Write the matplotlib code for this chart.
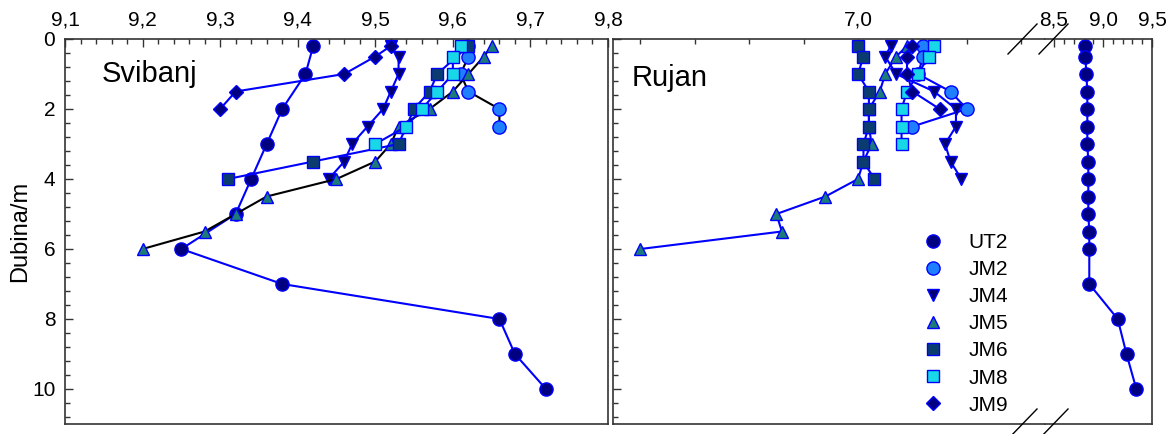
import matplotlib.pyplot as plt
from matplotlib.lines import Line2D
from matplotlib.ticker import MultipleLocator, FuncFormatter

plt.rcParams['font.family'] = ['Liberation Sans', 'DejaVu Sans']

stations = ['UT2', 'JM2', 'JM4', 'JM5', 'JM6', 'JM8', 'JM9']

# Svibanj: depth (m) and pH per station
may_ut2_z = [0.2, 1, 2, 3, 4, 5, 6, 7, 8, 9, 10]
may_ut2_ph = [9.42, 9.41, 9.38, 9.36, 9.34, 9.32, 9.25, 9.38, 9.66, 9.68, 9.72]
may_jm2_z = [0.2, 0.5, 1, 1.5, 2, 2.5]
may_jm2_ph = [9.62, 9.62, 9.61, 9.62, 9.66, 9.66]
may_jm4_z = [0.2, 0.5, 1, 1.5, 2, 2.5, 3, 3.5, 4]
may_jm4_ph = [9.52, 9.53, 9.53, 9.52, 9.51, 9.49, 9.47, 9.46, 9.44]
may_jm5_z = [0.2, 0.5, 1, 1.5, 2, 2.5, 3, 3.5, 4, 4.5, 5, 5.5, 6]
may_jm5_ph = [9.65, 9.64, 9.62, 9.60, 9.57, 9.53, 9.52, 9.50, 9.45, 9.36, 9.32, 9.28, 9.20]
may_jm6_z = [0.2, 1, 1.5, 2, 3, 3.5, 4]
may_jm6_ph = [9.62, 9.58, 9.57, 9.55, 9.53, 9.42, 9.31]
may_jm8_z = [0.2, 0.5, 1, 1.5, 2, 2.5, 3]
may_jm8_ph = [9.61, 9.60, 9.60, 9.58, 9.56, 9.54, 9.50]
may_jm9_z = [0.2, 0.5, 1, 1.5, 2]
may_jm9_ph = [9.52, 9.50, 9.46, 9.32, 9.30]

# Rujan: depth (m) and pH per station
sep_ut2_z = [0.2, 0.5, 1, 1.5, 2, 2.5, 3, 3.5, 4, 4.5, 5, 5.5, 6, 7, 8, 9, 10]
sep_ut2_ph = [8.82, 8.82, 8.83, 8.84, 8.84, 8.84, 8.84, 8.85, 8.85, 8.85, 8.85,
              8.86, 8.86, 8.86, 9.15, 9.24, 9.34]
sep_jm2_z = [0.2, 0.5, 1, 1.5, 2, 2.5]
sep_jm2_ph = [7.12, 7.12, 7.11, 7.17, 7.20, 7.10]
sep_jm4_z = [0.2, 0.5, 1, 1.5, 2, 2.5, 3, 3.5, 4]
sep_jm4_ph = [7.06, 7.05, 7.07, 7.14, 7.18, 7.18, 7.16, 7.17, 7.19]
sep_jm5_z = [0.2, 0.5, 1, 1.5, 2, 2.5, 3, 3.5, 4, 4.5, 5, 5.5, 6]
sep_jm5_ph = [7.09, 7.07, 7.05, 7.04, 7.02, 7.02, 7.025, 7.01, 7.00, 6.94, 6.85, 6.86, 6.60]
sep_jm6_z = [0.2, 0.5, 1, 1.5, 2, 2.5, 3, 3.5, 4]
sep_jm6_ph = [7.00, 7.01, 7.00, 7.02, 7.02, 7.02, 7.01, 7.01, 7.03]
sep_jm8_z = [0.2, 0.5, 1, 1.5, 2, 2.5, 3]
sep_jm8_ph = [7.14, 7.13, 7.11, 7.09, 7.08, 7.08, 7.08]
sep_jm9_z = [0.2, 0.5, 1, 1.5, 2]
sep_jm9_ph = [7.10, 7.09, 7.09, 7.10, 7.15]

may = {
    'UT2': (may_ut2_ph, may_ut2_z), 'JM2': (may_jm2_ph, may_jm2_z),
    'JM4': (may_jm4_ph, may_jm4_z), 'JM5': (may_jm5_ph, may_jm5_z),
    'JM6': (may_jm6_ph, may_jm6_z), 'JM8': (may_jm8_ph, may_jm8_z),
    'JM9': (may_jm9_ph, may_jm9_z),
}
sep = {
    'UT2': (sep_ut2_ph, sep_ut2_z), 'JM2': (sep_jm2_ph, sep_jm2_z),
    'JM4': (sep_jm4_ph, sep_jm4_z), 'JM5': (sep_jm5_ph, sep_jm5_z),
    'JM6': (sep_jm6_ph, sep_jm6_z), 'JM8': (sep_jm8_ph, sep_jm8_z),
    'JM9': (sep_jm9_ph, sep_jm9_z),
}

marker = {'UT2': 'o', 'JM2': 'o', 'JM4': 'v', 'JM5': '^', 'JM6': 's', 'JM8': 's', 'JM9': 'D'}
msize = {'UT2': 9.5, 'JM2': 9.5, 'JM4': 9, 'JM5': 9, 'JM6': 8, 'JM8': 8, 'JM9': 7.5}
fill = {'UT2': '#000080', 'JM2': '#1f7fff', 'JM4': '#000070', 'JM5': '#1c7a78',
        'JM6': '#0a3d6e', 'JM8': '#18d8e8', 'JM9': '#000080'}
may_line = {'UT2': '#0000ff', 'JM2': 'black', 'JM4': '#0000ff', 'JM5': 'black',
            'JM6': '#0000ff', 'JM8': '#0000ff', 'JM9': '#0000ff'}
edge = '#0000ff'
spine_col = '#333333'

W, H = 1169, 434
fig = plt.figure(figsize=(W / 100, H / 100), dpi=100)

def px(x0, x1):
    return [x0 / W, (H - 424) / H, (x1 - x0) / W, 385 / H]

ax1 = fig.add_axes(px(65, 608))
ax2 = fig.add_axes(px(613, 1045))
ax3 = fig.add_axes(px(1045, 1152))

comma = FuncFormatter(lambda v, p: f'{v:.1f}'.replace('.', ','))

for ax in (ax1, ax2, ax3):
    ax.set_ylim(11, 0)
    ax.xaxis.tick_top()
    ax.tick_params(which='both', direction='in', top=True, bottom=False,
                   right=False, labelsize=15, pad=7, color=spine_col)
    ax.tick_params(which='major', length=6, width=1)
    ax.tick_params(which='minor', length=3.5, width=1)
    ax.yaxis.set_major_locator(MultipleLocator(2))
    ax.yaxis.set_minor_locator(MultipleLocator(0.4))
    ax.xaxis.set_major_formatter(comma)
    for s in ax.spines.values():
        s.set_color(spine_col)
        s.set_linewidth(1.2)

# Svibanj panel
ax1.set_xlim(9.1, 9.8)
ax1.xaxis.set_major_locator(MultipleLocator(0.1))
ax1.xaxis.set_minor_locator(MultipleLocator(0.02))
ax1.set_ylabel('Dubina/m', fontsize=17)
ax1.yaxis.set_label_coords(-0.062, 0.5)
for st in stations:
    ph, z = may[st]
    ax1.plot(ph, z, color=may_line[st], lw=1.5, marker=marker[st], ms=msize[st],
             mfc=fill[st], mec=edge, mew=1)
ax1.text(0.068, 0.888, 'Svibanj', transform=ax1.transAxes, fontsize=21, va='baseline')

# Rujan panel, broken x axis
ax2.set_xlim(6.5496, 7.3437)
ax2.xaxis.set_major_locator(MultipleLocator(0.5))
ax2.xaxis.set_minor_locator(MultipleLocator(0.1))
ax2.tick_params(axis='y', labelleft=False)
ax2.spines['right'].set_visible(False)

ax3.set_xlim(8.408, 9.5)
ax3.xaxis.set_major_locator(MultipleLocator(0.5))
ax3.xaxis.set_minor_locator(MultipleLocator(0.1))
ax3.tick_params(axis='y', which='both', left=False, labelleft=False)
ax3.spines['left'].set_visible(False)

for st in stations:
    ph, z = sep[st]
    target = ax3 if st == 'UT2' else ax2
    target.plot(ph, z, color='#0000ff', lw=1.5, marker=marker[st], ms=msize[st],
                mfc=fill[st], mec=edge, mew=1, clip_on=False)
ax2.text(0.042, 0.878, 'Rujan', transform=ax2.transAxes, fontsize=21, va='baseline')

# break marks on the top and bottom spines
for cx in (1022, 1053):
    for cy in (39, 424):
        fig.add_artist(Line2D([(cx - 14) / W, (cx + 15) / W],
                              [1 - (cy + 15) / H, 1 - (cy - 15) / H],
                              color='black', lw=1))

handles = [Line2D([], [], ls='none', marker=marker[st], ms=msize[st],
                  mfc=fill[st], mec=edge, mew=1) for st in stations]
fig.legend(handles, stations, loc='upper left', bbox_to_anchor=(923 / W, 1 - 233 / H),
           frameon=False, fontsize=15, handlelength=1.0, handletextpad=1.2,
           labelspacing=0.39, borderpad=0, borderaxespad=0)

fig.savefig('out.png', dpi=100)
